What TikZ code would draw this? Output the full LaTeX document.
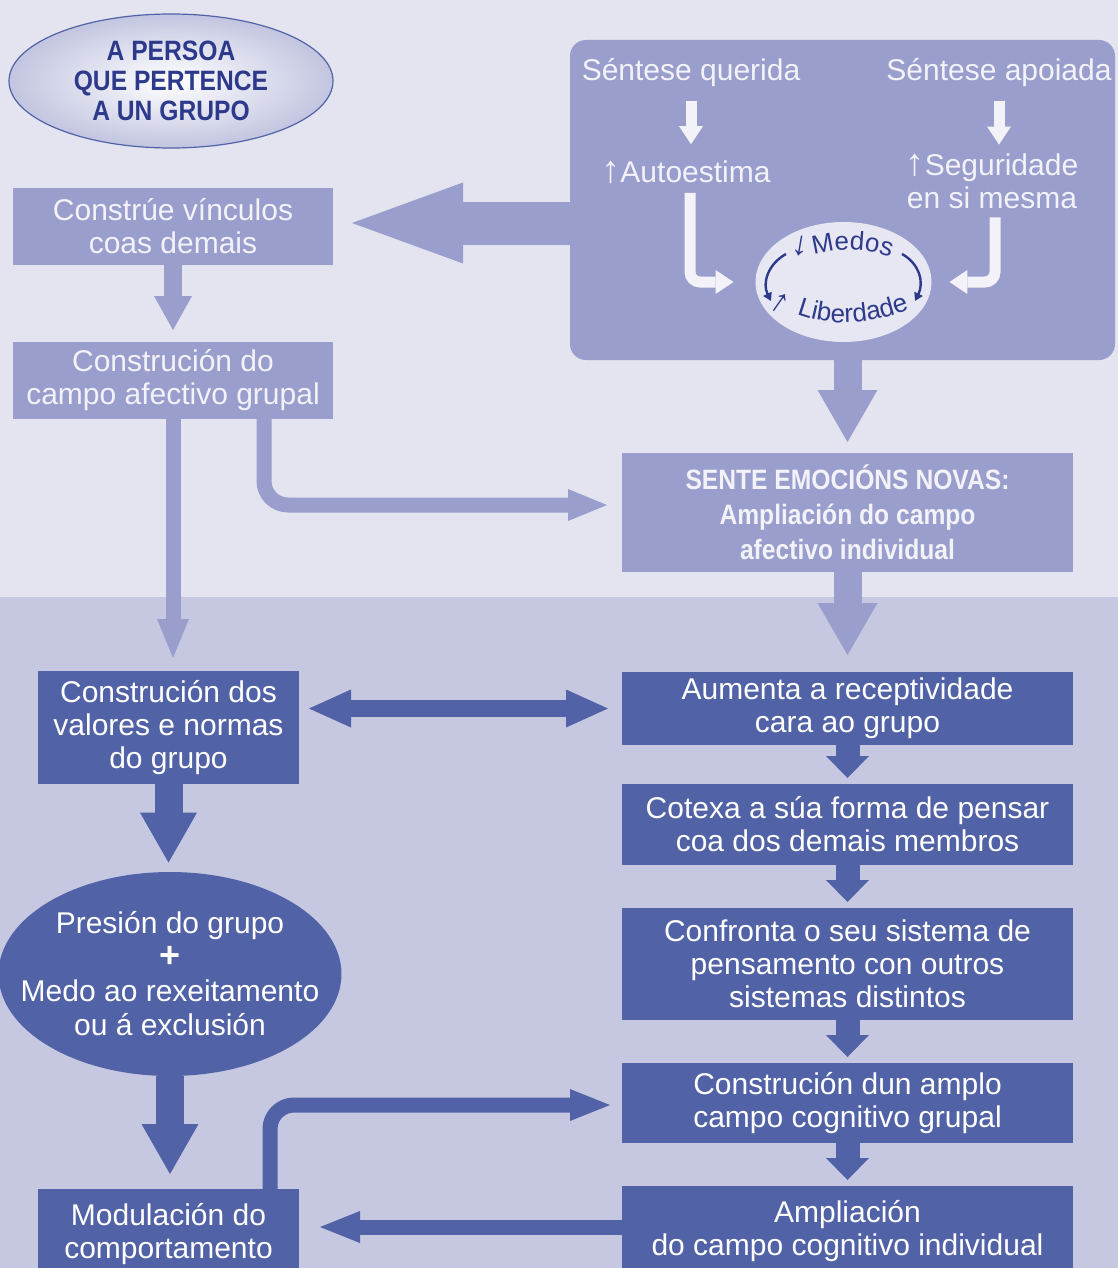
\documentclass[tikz,border=0pt]{standalone}
\usepackage{fontspec}
\setmainfont{Liberation Sans}
\newfontfamily\condfont[FakeStretch=0.88]{Liberation Sans}
\usepackage{tikz}
\usetikzlibrary{positioning, arrows.meta, shapes.geometric, decorations.text}
\definecolor{bgTop}{HTML}{E3E4F0}
\definecolor{bgLow}{HTML}{C6C8E2}
\definecolor{lilac}{HTML}{9A9ECC}
\definecolor{indigo}{HTML}{5262A6}
\definecolor{navy}{HTML}{2D3A8C}
\definecolor{pale}{HTML}{E6E7F2}
\definecolor{snow}{HTML}{F2F2F8}

\begin{document}
\begin{tikzpicture}[x=0.5pt,y=-0.5pt,node distance=21.5pt]
  \tikzset{lightbox/.style={fill=lilac,text=snow,align=center,minimum width=160pt,inner sep=0pt,outer sep=0pt,font=\fontsize{15}{16.5}\selectfont},
    darkbox/.style={lightbox,fill=indigo,text=white},
    rightbox/.style={darkbox,minimum width=225.5pt},
    plaintext/.style={text=snow,inner sep=0pt,align=center,font=\fontsize{15}{16.5}\selectfont},
    tiptri/.style 2 args={-{Triangle[length=#1,width=#2,line width=0pt]}},
    bigarrow/.style={draw=lilac,line width=21.5pt,tiptri={55.5pt}{40.5pt}},
    downarrow/.style={draw=lilac,line width=14pt,tiptri={26pt}{30pt}},
    midarrow/.style={draw=lilac,line width=9pt,tiptri={17pt}{19pt}},
    thinarrow/.style={draw=lilac,line width=7.5pt,rounded corners=12pt,tiptri={19.5pt}{16pt}},
    whitearrow/.style={draw=snow,line width=5.5pt,rounded corners=5pt,tiptri={9pt}{12pt}},
    darkthin/.style={draw=indigo,line width=7.5pt,rounded corners=12pt,tiptri={20pt}{16pt}},
    darkdown/.style={draw=indigo,line width=14pt,tiptri={25pt}{28.5pt}},
    smallarrow/.style={draw=indigo,line width=12pt,tiptri={11pt}{21.5pt}}}

  % background bands
  \useasboundingbox (0,0) rectangle (1118,1268);
  \fill[bgTop] (0,0) rectangle (1118,597);
  \fill[bgLow] (0,597) rectangle (1118,1268);

  % left column, upper half
  \node[ellipse,minimum width=162pt,minimum height=67pt,inner sep=0pt,draw=indigo,line width=0.6pt,inner color=white,outer color=lilac!60!white,text=navy,align=center,font=\condfont\bfseries\fontsize{14}{15}\selectfont] (persona) at (171,81) {A PERSOA\\QUE PERTENCE\\A UN GRUPO};
  \node[lightbox,minimum height=38.5pt] (vinculos) at (173,226.5) {Constrúe vínculos\\coas demais};
  \node[lightbox,minimum height=38.5pt] (campo) at (173,380.5) {Construción do\\campo afectivo grupal};

  % big box with the two syntheses
  \node[fill=lilac,rounded corners=8pt,minimum width=272.5pt,minimum height=160pt,inner sep=0pt,outer sep=0pt] (bigbox) at (842.5,200) {};
  \node[plaintext] (querida) at (691,73) {Séntese querida};
  \node[plaintext] (apoiada) at (999,73) {Séntese apoiada};
  \node[plaintext] (autoestima) at (686,172) {{\bfseries\fontsize{19}{16.5}\selectfont ↑}Autoestima};
  \node[plaintext] (seguridade) at (992,181) {{\bfseries\fontsize{19}{16.5}\selectfont ↑}Seguridade\\en si mesma};
  \node[ellipse,fill=pale,minimum width=88pt,minimum height=60pt,inner sep=0pt] (medlib) at (843.5,282) {};
  \node[text=navy,inner sep=0pt,rotate=-10,font=\bfseries\fontsize{17}{17}\selectfont] (downmark) at (800,246) {↓};
  \node[text=navy,inner sep=0pt,rotate=-35,font=\bfseries\fontsize{17}{17}\selectfont] (upmark) at (780,303) {↑};
  \path[decorate,decoration={text along path,text align=center,text={|\color{navy}\fontsize{13}{13}\selectfont|Medos}}] (807,257) .. controls (832,247) and (867,247) .. (897,260);
  \path[decorate,decoration={text along path,text align=center,text={|\color{navy}\fontsize{13}{13}\selectfont|Liberdade}}] (794,313) .. controls (828,327) and (870,326) .. (912,308);
  \draw[navy,line width=1.2pt,-{Triangle[length=4pt,width=4.5pt]}] (786,254) .. controls (768,264) and (762,283) .. (771,301);
  \draw[navy,line width=1.2pt,-{Triangle[length=4pt,width=4.5pt]}] (902,254) .. controls (920,264) and (924,283) .. (915,301);

  \draw[whitearrow,shorten <=6.5pt,shorten >=8pt] (querida.south) -- (querida.south |- autoestima.north);
  \draw[whitearrow,shorten <=6.5pt,shorten >=4.25pt] (apoiada.south) -- (apoiada.south |- seguridade.north);
  \draw[whitearrow,shorten <=4.5pt,shorten >=10.75pt] ([xshift=2pt]autoestima.south) |- (medlib.west);
  \draw[whitearrow,shorten <=4.25pt,shorten >=8.75pt] ([xshift=1.5pt]seguridade.south) |- (medlib.east);

  % right column
  \node[lightbox,font=\condfont\bfseries\fontsize{14}{17.5}\selectfont,minimum width=225.5pt,minimum height=59.5pt] (sente) at (847.5,512.5) {SENTE EMOCIÓNS NOVAS:\\Ampliación do campo\\afectivo individual};
  \node[rightbox,minimum height=36.5pt] (aumenta) at (847.5,708.5) {Aumenta a receptividade\\cara ao grupo};
  \node[rightbox,minimum height=40.5pt,below=19.5pt of aumenta] (cotexa) {Cotexa a súa forma de pensar\\coa dos demais membros};
  \node[rightbox,minimum height=56pt,below=of cotexa] (confronta) {Confronta o seu sistema de\\pensamento con outros\\sistemas distintos};
  \node[rightbox,minimum height=40pt,below=of confronta] (dun) {Construción dun amplo\\campo cognitivo grupal};
  \node[rightbox,minimum height=45pt,below=of dun] (ampl) {Ampliación\\do campo cognitivo individual};

  % left column, lower half
  \node[darkbox,minimum width=130.5pt,minimum height=56.5pt] (valores) at (168.5,727.5) {Construción dos\\valores e normas\\do grupo};
  \node[ellipse,fill=indigo,text=white,minimum width=170pt,minimum height=102pt,inner xsep=-14pt,inner ysep=0pt,align=center,font=\fontsize{15}{17}\selectfont] (presion) at (170,974) {Presión do grupo\\{\bfseries\fontsize{18}{17}\selectfont +}\\Medo ao rexeitamento\\ou á exclusión};
  \node[darkbox,minimum width=130.5pt,minimum height=45pt] (modul) at (168.5,1234) {Modulación do\\comportamento};

  % connectors
  \draw[bigarrow,shorten >=9.5pt] ([yshift=1.75pt]vinculos.east -| bigbox.west) -- ([yshift=1.75pt]vinculos.east);
  \draw[midarrow,shorten >=6pt] (vinculos.south) -- (campo.north);
  \draw[downarrow,shorten >=5.5pt] (sente.north |- bigbox.south) -- (sente.north);
  \draw[downarrow,shorten >=8.5pt] (sente.south) -- (aumenta.north);
  \draw[thinarrow,shorten >=6.5pt] (campo.south) -- (campo.south |- valores.north);
  \draw[thinarrow,shorten >=7.5pt] ([xshift=45.5pt]campo.south) |- ([yshift=3.75pt]sente.west);
  \draw[draw=indigo,line width=8.5pt,{Triangle[length=21pt,width=19pt,line width=0pt]}-{Triangle[length=21pt,width=19pt,line width=0pt]},shorten <=5pt,shorten >=7pt] (valores.east |- aumenta.west) -- (aumenta.west);
  \foreach \a/\b in {aumenta/cotexa,cotexa/confronta,confronta/dun,dun/ampl}
    \draw[smallarrow,shorten >=3pt] (\a.south) -- (\b.north);
  \draw[darkdown,shorten >=4.5pt] (valores.south) -- (valores.south |- presion.north);
  \draw[darkdown,shorten >=7.5pt] (presion.south) -- (presion.south |- modul.north);
  \draw[darkthin,shorten >=6pt] ([xshift=50.75pt]modul.north) |- ([yshift=-1pt]dun.west);
  \draw[darkthin,shorten >=10.5pt] ([yshift=2pt]ampl.west) -- ([yshift=2pt]ampl.west -| modul.east);
\end{tikzpicture}
\end{document}
